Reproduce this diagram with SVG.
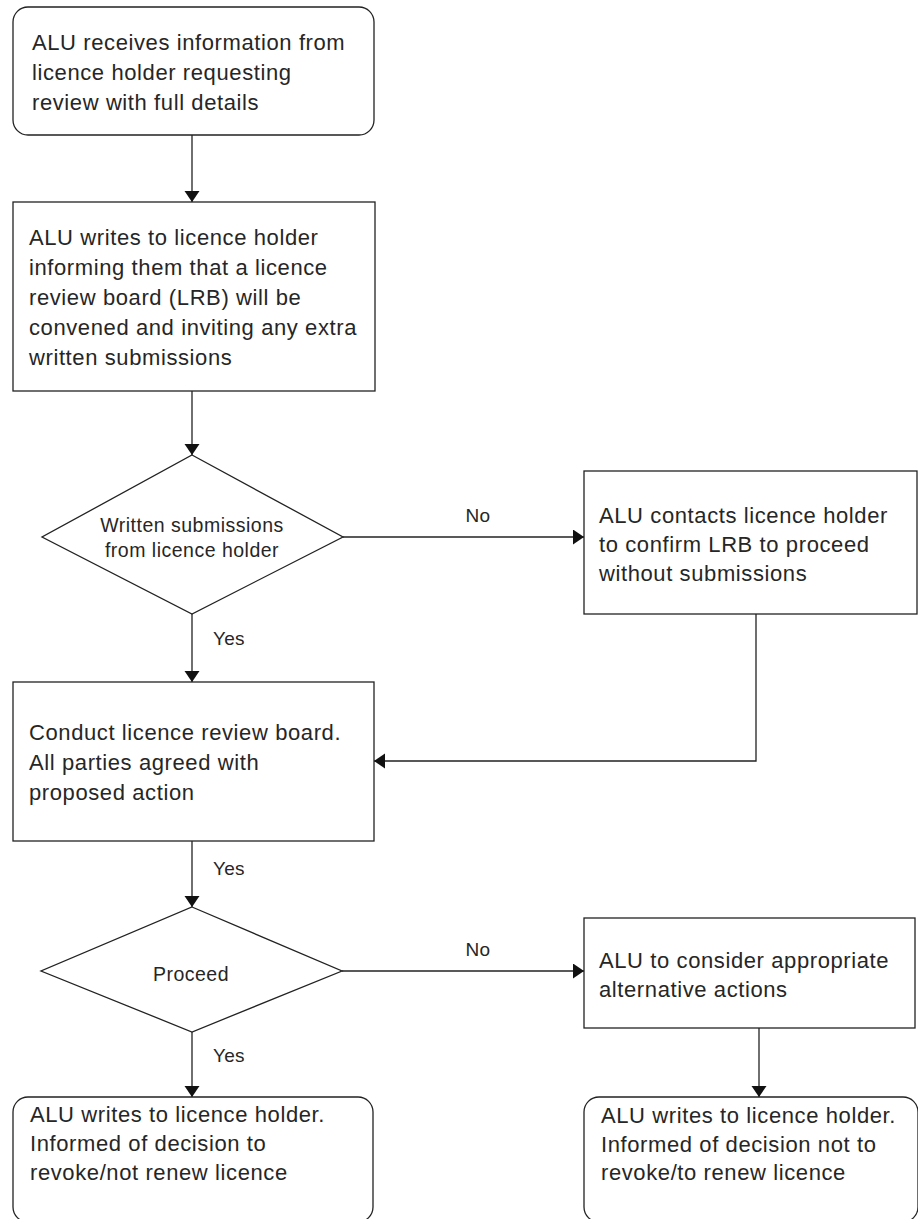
<svg xmlns="http://www.w3.org/2000/svg" width="918" height="1219" viewBox="0 0 918 1219">
<style>
.box{fill:#fff;stroke:#222;stroke-width:1.3}
.t{font-family:"Liberation Sans",Arial,sans-serif;font-size:22px;letter-spacing:0.6px;fill:#262626}
.d{font-family:"Liberation Sans",Arial,sans-serif;font-size:19.5px;letter-spacing:0.5px;fill:#262626;text-anchor:middle}
.lbl{font-family:"Liberation Sans",Arial,sans-serif;font-size:19px;letter-spacing:0.3px;fill:#262626}
.c{fill:none;stroke:#222;stroke-width:1.3}
</style>
<defs>
<marker id="ah" markerUnits="userSpaceOnUse" markerWidth="12" markerHeight="16" refX="11" refY="7.5" orient="auto" viewBox="0 0 12 16">
<path d="M0,0 L11,7.5 L0,15 z" fill="#111"/>
</marker>
</defs>
<rect width="918" height="1219" fill="#fff"/>
<g id="connectors">
<path class="c" d="M192,135 V202" marker-end="url(#ah)"/>
<path class="c" d="M192,391 V455" marker-end="url(#ah)"/>
<path class="c" d="M343,537 H584" marker-end="url(#ah)"/>
<path class="c" d="M192,614 V682" marker-end="url(#ah)"/>
<path class="c" d="M756,614 V761 H374" marker-end="url(#ah)"/>
<path class="c" d="M192,841 V907" marker-end="url(#ah)"/>
<path class="c" d="M342,971 H584" marker-end="url(#ah)"/>
<path class="c" d="M192,1032 V1097" marker-end="url(#ah)"/>
<path class="c" d="M759,1028 V1097" marker-end="url(#ah)"/>
<text class="lbl" x="478" y="522" text-anchor="middle">No</text>
<text class="lbl" x="213" y="645">Yes</text>
<text class="lbl" x="213" y="875">Yes</text>
<text class="lbl" x="478" y="956" text-anchor="middle">No</text>
<text class="lbl" x="213" y="1062">Yes</text>
</g>
<g id="n1">
<rect class="box" x="13" y="7" width="361" height="128" rx="15"/>
<text class="t" x="32" y="50">ALU receives information from</text>
<text class="t" x="32" y="80">licence holder requesting</text>
<text class="t" x="32" y="110">review with full details</text>
</g>
<g id="n2">
<rect class="box" x="13" y="202" width="362" height="189"/>
<text class="t" x="29" y="245">ALU writes to licence holder</text>
<text class="t" x="29" y="275">informing them that a licence</text>
<text class="t" x="29" y="305">review board (LRB) will be</text>
<text class="t" x="29" y="335">convened and inviting any extra</text>
<text class="t" x="29" y="365">written submissions</text>
</g>
<g id="d1">
<polygon class="box" points="192,455 343,537 192,614 42,537"/>
<text class="d" x="192" y="532">Written submissions</text>
<text class="d" x="192" y="557">from licence holder</text>
</g>
<g id="n3">
<rect class="box" x="584" y="471" width="333" height="143"/>
<text class="t" x="599" y="523">ALU contacts licence holder</text>
<text class="t" x="599" y="552">to confirm LRB to proceed</text>
<text class="t" x="599" y="581">without submissions</text>
</g>
<g id="n4">
<rect class="box" x="13" y="682" width="361" height="159"/>
<text class="t" x="29" y="740">Conduct licence review board.</text>
<text class="t" x="29" y="770">All parties agreed with</text>
<text class="t" x="29" y="800">proposed action</text>
</g>
<g id="d2">
<polygon class="box" points="192,907 342,971 192,1032 41,971"/>
<text class="d" x="191" y="981">Proceed</text>
</g>
<g id="n5">
<rect class="box" x="584" y="918" width="331" height="110"/>
<text class="t" x="599" y="968">ALU to consider appropriate</text>
<text class="t" x="599" y="997">alternative actions</text>
</g>
<g id="n6">
<rect class="box" x="13" y="1097" width="360" height="125" rx="15"/>
<text class="t" x="30" y="1122">ALU writes to licence holder.</text>
<text class="t" x="30" y="1151">Informed of decision to</text>
<text class="t" x="30" y="1180">revoke/not renew licence</text>
</g>
<g id="n7">
<rect class="box" x="584" y="1097" width="334" height="125" rx="15"/>
<text class="t" x="601" y="1123">ALU writes to licence holder.</text>
<text class="t" x="601" y="1152">Informed of decision not to</text>
<text class="t" x="601" y="1180">revoke/to renew licence</text>
</g>
</svg>
